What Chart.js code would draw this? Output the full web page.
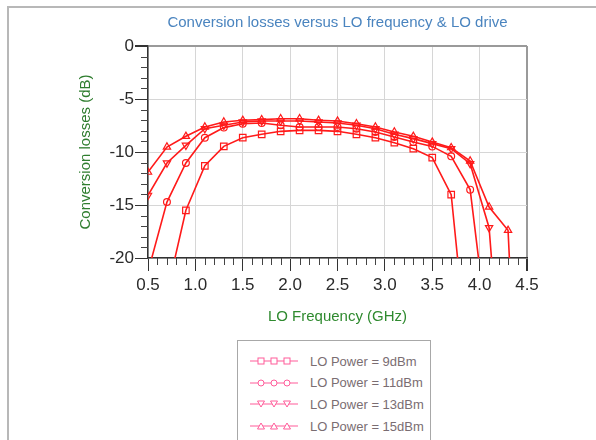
<!DOCTYPE html>
<html>
<head>
<meta charset="utf-8">
<script src="https://cdn.jsdelivr.net/npm/chart.js@4.4.1/dist/chart.umd.min.js"></script>
<style>
  body { margin: 0; background: #fff; font-family: "Liberation Sans", Arial, sans-serif; }
  #wrap { position: relative; width: 596px; height: 440px; overflow: hidden; }
  #frame { position: absolute; left: 7px; top: 6px; right: -5px; bottom: -5px;
           border-top: 2px solid #b8b8b8; border-left: 2px solid #b8b8b8; }
  #grafica { position: absolute; left: 0; top: 0; }
  #titulo { position: absolute; left: 148px; width: 379px; top: 13px; text-align: center;
            font-size: 15px; color: #4a84bf; white-space: nowrap; }
  #leyenda { position: absolute; left: 237px; top: 340px; width: 192px; height: 120px;
             border: 1px solid #a8a8a8; background: #fff; }
  .fila { position: absolute; left: 12px; height: 16px; display: flex; align-items: center; }
  .fila span { margin-left: 12px; font-size: 13px; color: #7a6d72; }
</style>
</head>
<body>
<div id="wrap">
  <div id="frame"></div>
  <canvas id="grafica" width="596" height="440"></canvas>
  <div id="titulo">Conversion losses versus LO frequency &amp; LO drive</div>
  <div id="leyenda"></div>
</div>
<script>
// LO frequency (GHz) of each measured point
var freqGHz = [0.5, 0.7, 0.9, 1.1, 1.3, 1.5, 1.7, 1.9, 2.1, 2.3, 2.5, 2.7, 2.9, 3.1, 3.3, 3.5, 3.7, 3.9, 4.1, 4.3, 4.5];

// conversion losses (dB) per LO power
var loss9dBm  = [null, -23.3, -15.5, -11.3, -9.47, -8.65, -8.33, -8.05, -7.96, -7.96, -8.05, -8.33, -8.65, -9.12, -9.69, -10.53, -14.03, -31.8, null, null, null];
var loss11dBm = [-21.3, -14.72, -11.04, -8.65, -7.70, -7.33, -7.26, -7.48, -7.64, -7.64, -7.64, -7.80, -8.11, -8.58, -9.06, -9.47, -10.41, -13.55, -28.2, null, null];
var loss13dBm = [-14.09, -11.04, -9.37, -7.80, -7.48, -7.17, -7.08, -7.08, -7.08, -7.17, -7.26, -7.48, -7.80, -8.33, -8.74, -9.21, -9.69, -11.10, -17.14, -40, null];
var loss15dBm = [-11.9, -9.53, -8.52, -7.64, -7.17, -7.01, -6.95, -6.86, -6.86, -7.01, -7.08, -7.33, -7.64, -8.11, -8.52, -9.06, -9.59, -10.85, -15.19, -17.39, -55];

var seriesNames = ["LO Power = 9dBm", "LO Power = 11dBm", "LO Power = 13dBm", "LO Power = 15dBm"];

// axis ticks
var xTickLabels = [0.5, 1.0, 1.5, 2.0, 2.5, 3.0, 3.5, 4.0, 4.5];
var yTickLabels = [0, -5, -10, -15, -20];
var xMinorStep = 0.1;
var yMinorStep = 1;

function puntos(valores) {
    var out = [];
    for (var i = 0; i < freqGHz.length; i++) {
        out.push({ x: freqGHz[i], y: valores[i] });
    }
    return out;
}

function serie(nombre, valores, estilo, rot, radio) {
    return {
        label: nombre,
        data: puntos(valores),
        borderColor: "#ff1a1a",
        backgroundColor: "rgba(255,255,255,0)",
        borderWidth: 1.6,
        pointStyle: estilo,
        rotation: rot,
        pointRadius: radio,
        pointBorderWidth: 1.2,
        pointBorderColor: "#ff1a1a",
        pointBackgroundColor: "rgba(255,255,255,0)",
        spanGaps: false,
        tension: 0
    };
}

// short minor ticks between the labelled ones
var ticksMenores = {
    id: "ticksMenores",
    afterDraw: function (chart) {
        var ctx = chart.ctx;
        var sx = chart.scales.x;
        var sy = chart.scales.y;
        ctx.save();
        ctx.strokeStyle = "#444";
        ctx.lineWidth = 1;
        ctx.beginPath();
        var n = Math.round((sx.max - sx.min) / xMinorStep);
        for (var i = 0; i <= n; i++) {
            if (i % 5 === 0) continue;
            var px = Math.round(sx.getPixelForValue(sx.min + i * xMinorStep)) + 0.5;
            ctx.moveTo(px, sx.top);
            ctx.lineTo(px, sx.top + 7);
        }
        for (var v = sy.min; v <= sy.max; v += yMinorStep) {
            if (v % 5 === 0) continue;
            var py = Math.round(sy.getPixelForValue(v)) + 0.5;
            ctx.moveTo(sy.right - 7, py);
            ctx.lineTo(sy.right, py);
        }
        ctx.stroke();
        ctx.restore();
    }
};

var miCanvas = document.getElementById("grafica").getContext("2d");

var chart = new Chart(miCanvas, {
    type: "line",
    data: {
        datasets: [
            serie(seriesNames[0], loss9dBm, "rect", 0, 4.6),
            serie(seriesNames[1], loss11dBm, "circle", 0, 3.4),
            serie(seriesNames[2], loss13dBm, "triangle", 180, 4.2),
            serie(seriesNames[3], loss15dBm, "triangle", 0, 4.2)
        ]
    },
    options: {
        responsive: false,
        animation: false,
        layout: { padding: { left: 0, right: 69, top: 46, bottom: 102 } },
        plugins: {
            legend: { display: false },
            title: { display: false },
            tooltip: { enabled: false }
        },
        scales: {
            x: {
                type: "linear",
                min: 0.5,
                max: 4.5,
                afterBuildTicks: function (scale) {
                    scale.ticks = xTickLabels.map(function (v) { return { value: v }; });
                },
                afterFit: function (scale) { scale.height = 80; },
                ticks: {
                    autoSkip: false,
                    maxRotation: 0,
                    padding: 4,
                    color: "#2a2a2a",
                    font: { family: "Liberation Sans", size: 17 },
                    callback: function (v) { return v.toFixed(1); }
                },
                grid: {
                    tickLength: 13,
                    tickColor: "#333",
                    color: function (c) { return c.tick && c.tick.value === 4.5 ? "#9a9a9a" : "#d6d6d6"; },
                    lineWidth: function (c) { return c.tick && c.tick.value === 4.5 ? 2 : 1; }
                },
                border: { color: "#333", width: 1.5 },
                title: {
                    display: true,
                    text: "LO Frequency (GHz)",
                    color: "#2f8a2f",
                    font: { family: "Liberation Sans", size: 15 },
                    padding: { top: 12, bottom: 12 }
                }
            },
            y: {
                type: "linear",
                min: -20,
                max: 0,
                afterBuildTicks: function (scale) {
                    scale.ticks = yTickLabels.map(function (v) { return { value: v }; });
                },
                afterFit: function (scale) { scale.width = 148; },
                ticks: {
                    padding: 1,
                    color: "#2a2a2a",
                    font: { family: "Liberation Sans", size: 17 },
                    callback: function (v) { return String(v); }
                },
                grid: {
                    tickLength: 13,
                    tickColor: "#333",
                    color: function (c) { return c.tick && c.tick.value === 0 ? "#9a9a9a" : "#d6d6d6"; },
                    lineWidth: function (c) { return c.tick && c.tick.value === 0 ? 2 : 1; }
                },
                border: { color: "#333", width: 1.5 },
                title: {
                    display: true,
                    text: "Conversion losses (dB)",
                    color: "#2f7d2f",
                    font: { family: "Liberation Sans", size: 15 },
                    padding: { top: 77, bottom: 0 }
                }
            }
        }
    },
    plugins: [ticksMenores]
});

// legend: pink line with three markers, like the original
function marcador(estilo, cx) {
    if (estilo === "rect") return '<rect x="' + (cx - 3) + '" y="3" width="6" height="6" fill="#fff" stroke="#ff5c9a" stroke-width="1"/>';
    if (estilo === "circle") return '<circle cx="' + cx + '" cy="6" r="3" fill="#fff" stroke="#ff5c9a" stroke-width="1"/>';
    if (estilo === "down") return '<polygon points="' + (cx - 3.5) + ',3 ' + (cx + 3.5) + ',3 ' + cx + ',9" fill="#fff" stroke="#ff5c9a" stroke-width="1"/>';
    return '<polygon points="' + (cx - 3.5) + ',9 ' + (cx + 3.5) + ',9 ' + cx + ',3" fill="#fff" stroke="#ff5c9a" stroke-width="1"/>';
}

var estilosLeyenda = ["rect", "circle", "down", "up"];
var leyenda = document.getElementById("leyenda");
var html = "";
for (var i = 0; i < seriesNames.length; i++) {
    var svg = '<svg width="48" height="12"><line x1="0" y1="6" x2="48" y2="6" stroke="#ff5c9a" stroke-width="1.2"/>' +
        marcador(estilosLeyenda[i], 11) + marcador(estilosLeyenda[i], 24) + marcador(estilosLeyenda[i], 37) + '</svg>';
    html += '<div class="fila" style="top:' + (12 + i * 21.7) + 'px">' + svg + '<span>' + seriesNames[i] + '</span></div>';
}
leyenda.innerHTML = html;
</script>
</body>
</html>
